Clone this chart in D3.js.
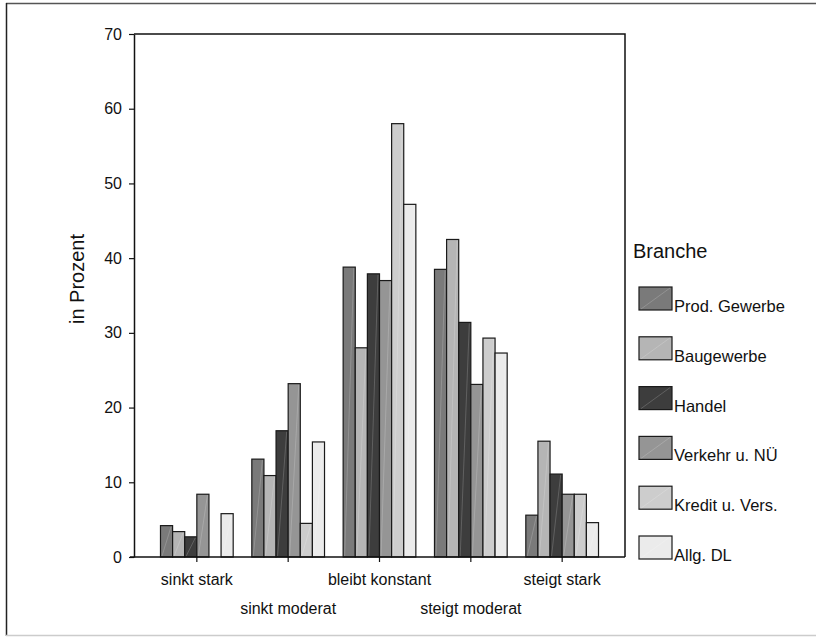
<!DOCTYPE html>
<html><head><meta charset="utf-8">
<script src="https://cdn.jsdelivr.net/npm/d3@7/dist/d3.min.js"></script>
<style>body{margin:0;background:#fff}svg{display:block}text{font-family:"Liberation Sans",Arial,sans-serif;fill:#111}</style>
</head><body><svg id="c" width="816" height="637"></svg>
<script>
const categories = ["sinkt stark","sinkt moderat","bleibt konstant","steigt moderat","steigt stark"];
const seriesNames = ["Prod. Gewerbe","Baugewerbe","Handel","Verkehr u. NÜ","Kredit u. Vers.","Allg. DL"];
const prodGewerbe = [4.2, 13.1, 38.8, 38.5, 5.6];
const baugewerbe  = [3.4, 10.9, 28.0, 42.5, 15.5];
const handel      = [2.7, 16.9, 37.9, 31.4, 11.1];
const verkehr     = [8.4, 23.2, 37.0, 23.1, 8.4];
const kredit      = [0.0, 4.5, 58.0, 29.3, 8.4];
const allgDL      = [5.8, 15.4, 47.2, 27.3, 4.6];
const yTicks = [0,10,20,30,40,50,60,70];
const colors = ["#7a7a7a","#b5b5b5","#3d3d3d","#959595","#cdcdcd","#ebebeb"];
const seriesValues = [prodGewerbe, baugewerbe, handel, verkehr, kredit, allgDL];

const svg = d3.select("#c");
// outer frame
svg.append("line").attr("x1",6).attr("x2",816).attr("y1",3.5).attr("y2",3.5).attr("stroke","#555").attr("stroke-width",1.5);
svg.append("line").attr("x1",6.5).attr("x2",6.5).attr("y1",3).attr("y2",636).attr("stroke","#222").attr("stroke-width",1.5);
svg.append("line").attr("x1",6).attr("x2",816).attr("y1",635.5).attr("y2",635.5).attr("stroke","#ccc").attr("stroke-width",1.5);

const L=134, R=625, T=34, B=557;
const y = d3.scaleLinear().domain([0,70]).range([B,T]);
const x0 = d3.scaleBand().domain(categories).range([L,R]).paddingInner(0.204).paddingOuter(0.29);
const x1 = d3.scaleBand().domain(d3.range(seriesNames.length)).range([0,x0.bandwidth()]);

// plot frame top/right
svg.append("path").attr("d",`M${L},${T}H${R}V${B}`).attr("fill","none").attr("stroke","#111").attr("stroke-width",1.5);

const data = [];
categories.forEach((c,ci)=>seriesValues.forEach((s,si)=>data.push({c,si,v:s[ci]})));

const g = svg.append("g");
g.selectAll("rect.bar").data(data).join("rect").attr("class","bar")
  .attr("x",d=>x0(d.c)+x1(d.si))
  .attr("y",d=>y(d.v))
  .attr("width",x1.bandwidth())
  .attr("height",d=>B-y(d.v))
  .attr("fill",d=>colors[d.si])
  .attr("stroke","#1a1a1a").attr("stroke-width",1.2);
g.selectAll("line.hl").data(data.filter(d=>d.v>0)).join("line").attr("class","hl")
  .attr("x1",d=>x0(d.c)+x1(d.si)+1.5)
  .attr("y1",B-1)
  .attr("x2",d=>x0(d.c)+x1(d.si)+x1.bandwidth()-1.5)
  .attr("y2",d=>y(d.v)+1)
  .attr("stroke","#fff").attr("stroke-opacity",0.18).attr("stroke-width",1);

// y axis
const ya = svg.append("g").attr("transform",`translate(${L},0)`)
  .call(d3.axisLeft(y).tickValues(yTicks).tickSize(5).tickPadding(7).tickSizeOuter(0));
ya.select(".domain").attr("stroke","#111").attr("stroke-width",1.5);
ya.selectAll(".tick line").attr("stroke","#111").attr("stroke-width",1.2);
ya.selectAll("text").style("font-size","16px").attr("fill","#111").attr("font-family","Liberation Sans, Arial, sans-serif");

// x axis
const xa = svg.append("g").attr("transform",`translate(0,${B})`)
  .call(d3.axisBottom(x0).tickSize(5).tickSizeOuter(0).tickPadding(0));
xa.select(".domain").attr("stroke","#111").attr("stroke-width",1.5).attr("d",`M${L-4},0H${R}`);
xa.selectAll(".tick line").attr("stroke","#111").attr("stroke-width",1.2);
xa.selectAll("text").style("font-size","16px").attr("fill","#111").attr("font-family","Liberation Sans, Arial, sans-serif")
  .attr("dy",null).attr("y",(d,i)=> i%2===0 ? 28 : 57);

// y title
svg.append("text").attr("transform","translate(84,279) rotate(-90)").attr("text-anchor","middle")
  .style("font-size","20px").text("in Prozent");

// legend
svg.append("text").attr("x",633).attr("y",258).style("font-size","20px").text("Branche");
const lg = svg.append("g").selectAll("g").data(seriesNames).join("g")
  .attr("transform",(d,i)=>`translate(639,${287+i*49.8})`);
lg.append("rect").attr("width",33).attr("height",23).attr("fill",(d,i)=>colors[i]).attr("stroke","#1a1a1a").attr("stroke-width",1.2);
lg.append("line").attr("x1",2).attr("y1",22).attr("x2",31).attr("y2",1).attr("stroke","#fff").attr("stroke-opacity",0.18);
lg.append("text").attr("x",35).attr("y",25).style("font-size","16.5px").text(d=>d);
</script></body></html>
